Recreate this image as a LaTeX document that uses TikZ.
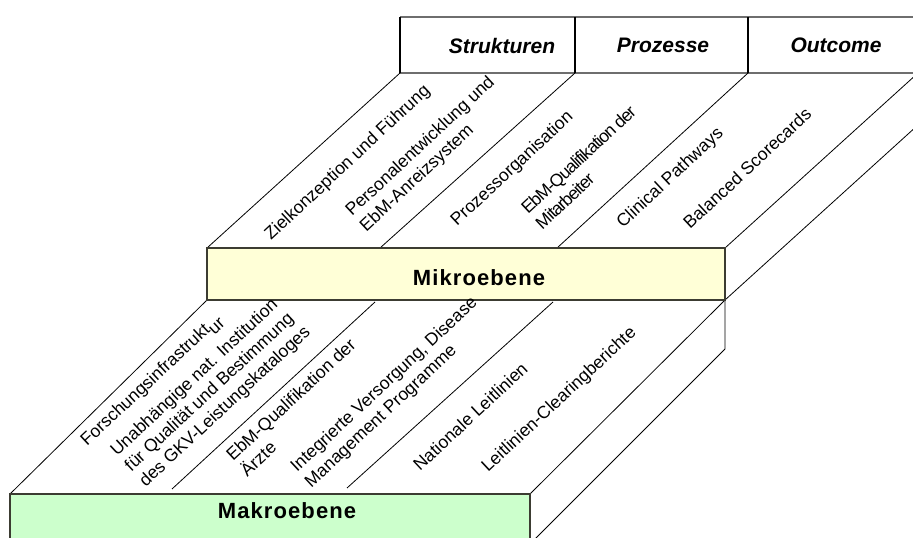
\documentclass[tikz,border=0pt]{standalone}
\usepackage{fontspec}
\setmainfont{Liberation Sans}
\newfontfamily\tightfont{Liberation Sans}[LetterSpace=-6]
\newfontfamily\widefont{Liberation Sans}[LetterSpace=5]
\definecolor{mikrofill}{RGB}{255,255,215}
\definecolor{makrofill}{RGB}{204,255,204}
\definecolor{rimgray}{RGB}{110,110,110}
\definecolor{boxline}{RGB}{60,60,50}
% left-aligned stack whose baseline is that of its first line
\newcommand\stk[1]{\begin{tabular}[t]{@{}l@{}}#1\end{tabular}}

\begin{document}
\begin{tikzpicture}[x=1bp,y=-1bp,
  edge/.style={line width=0.8bp,black},
  level/.style={draw=boxline,line width=1.3bp},
  rim/.style={draw=rimgray,line width=1.3bp},
  divider/.style={draw=black,line width=1.1bp},
  colhead/.style={font=\fontsize{21bp}{25bp}\selectfont\bfseries\itshape, inner sep=0pt},
  levelname/.style={font=\widefont\fontsize{22bp}{26bp}\selectfont\bfseries, inner sep=0pt},
  labfont/.style={font=\fontsize{17.6bp}{21bp}\selectfont},
  lab/.style={rotate=43, anchor=base west, inner sep=0pt, labfont}]
\useasboundingbox (0,0) rectangle (913,538);
\clip (0,0) rectangle (913,538);

% header strip
\coordinate (hA) at (400,17);  \coordinate (hB) at (575,17);
\coordinate (hC) at (748,17);  \coordinate (hE) at (930,17);
\coordinate (bA) at (400,73);  \coordinate (bB) at (575,73);
\coordinate (bC) at (748,73);  \coordinate (bD) at (918,73);
\coordinate (bE) at (930,73);

% micro level corners
\coordinate (miTL) at (207,248); \coordinate (miTR) at (725,248);
\coordinate (miBL) at (207,300); \coordinate (miBR) at (725,300);
\coordinate (miF1) at (380,248); \coordinate (miF2) at (557,248);
\coordinate (miSide) at (918,125);

% macro level corners
\coordinate (maTL) at (10,494);  \coordinate (maTR) at (530,494);
\coordinate (maBL) at (10,550);  \coordinate (maBR) at (530,550);
\coordinate (maB1) at (375,302); \coordinate (maF1) at (172,489);
\coordinate (maB2) at (553,302); \coordinate (maF2) at (347,488);
\coordinate (maRear) at (725,349); \coordinate (maRearF) at (530,544);

% header
\draw[rim] (hA) -- (hE);
\draw[rim] (bA) -- (bE);
\draw[divider] (hA) -- (bA) (hB) -- (bB) (hC) -- (bC);
\node[colhead] (hStr) at (502,45.5) {Strukturen};
\node[colhead] (hPro) at (663,45.5) {Prozesse};
\node[colhead] (hOut) at (836,45.5) {Outcome};

% micro level: top face and side face
\draw[edge] (bA) -- (miTL);
\draw[edge] (bB) -- (miF1);
\draw[edge] (bC) -- (miF2);
\draw[edge] (bD) -- (miTR);
\draw[edge] (miBR) -- (miSide);

% macro level: top face and side face
\draw[edge] (miBL) -- (maTL);
\draw[edge] (maB1) -- (maF1);
\draw[edge] (maB2) -- (maF2);
\draw[edge] (miBR) -- (maTR);
\draw[edge] (miBR) -- (maRear) -- (maRearF);

% front faces
\path[level, fill=mikrofill] (miTL) rectangle (miBR);
\path[level, fill=makrofill] (maTL) rectangle (maBR);
\node[levelname] (mikro) at (479,278) {Mikroebene};
\node[levelname] (makro) at (287,511) {Makroebene};

% labels on the micro top face
\node[lab] (l1) at (271,241) {Zielkonzeption und Führung};
\node[lab] (l2) at (352,217) {\stk{Personalentwicklung und\\EbM-Anreizsystem}};
\node[lab] (l3) at (457,227) {Prozessorganisation};
\node[lab, font=\tightfont\fontsize{17.6bp}{21bp}\selectfont] (l4) at (528,215) {\stk{EbM-Qualifikation der\\Mitarbeiter}};
\node[lab] (l5) at (623,229) {Clinical Pathways};
\node[lab] (l6) at (690,230) {Balanced Scorecards};

% labels on the macro top face
\node[lab] (m1) at (87,447) {Forschungsinfrastrukt\raisebox{-0.3em}{ur}};
\node[lab] (m2) at (117,457) {\stk{Unabhängige nat. Institution\\für Qualität und Bestimmung\\des GKV-Leistungskataloges}};
\node[lab] (m3) at (233,462) {\stk{EbM-Qualifikation der\\Ärzte}};
\node[lab] (m4) at (297,473) {\stk{Integrierte Versorgung, Disease\\Management Programme}};
\node[lab] (m5) at (420,472) {Nationale Leitlinien};
\node[lab] (m6) at (488,473) {Leitlinien-Clearingberichte};
\end{tikzpicture}
\end{document}
